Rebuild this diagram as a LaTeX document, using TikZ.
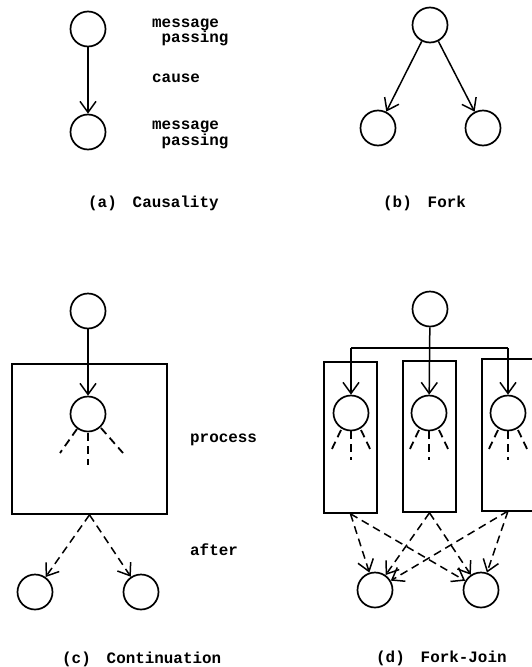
\documentclass[tikz,border=0pt]{standalone}
\usepackage{fontspec}
\setmainfont{Liberation Mono}
\usetikzlibrary{arrows.meta,calc}
\tikzset{
  circ/.style={circle,draw,line width=1.7pt,minimum size=35pt,inner sep=0pt},
  procbox/.style={rectangle,draw,line width=1.7pt,inner sep=0pt},
  arr/.style={line width=1.5pt,-{Straight Barb[length=11pt,width=16pt,line width=1.5pt]}},
  darr/.style={arr,dash pattern=on 8pt off 5pt},
  ray/.style={line width=1.8pt,dash pattern=on 8pt off 5pt},
  lbl/.style={anchor=base west,inner sep=0pt,font=\fontsize{15.9}{18}\selectfont\bfseries}
}
\begin{document}
\begin{tikzpicture}[x=1pt,y=-1pt]
\useasboundingbox (0,0) rectangle (532,667);
% (a) Causality
\node[circ] (a1) at (88,29) {};
\node[circ] (a2) at (88,132) {};
\draw[arr] (a1) -- (a2);
\node[lbl] (am1) at (152,27) {message};
\node[lbl] (ap1) at (161.5,42) {passing};
\node[lbl] (ac) at (152,82) {cause};
\node[lbl] (am2) at (152,129) {message};
\node[lbl] (ap2) at (161.5,145) {passing};
\node[lbl] (acap) at (88,207) {(a)\hspace{1em}Causality};
% (b) Fork
\node[circ] (b0) at (430,25) {};
\node[circ] (b1) at (378,128) {};
\node[circ] (b2) at (483,128) {};
\draw[arr] (b0) -- (b1);
\draw[arr] (b0) -- (b2);
\node[lbl] (bcap) at (383,207) {(b)\hspace{1em}Fork};
% (c) Continuation
\node[circ] (c0) at (88,311) {};
\node[procbox,minimum width=155pt,minimum height=150pt] (cp) at (89.5,439) {};
\node[circ] (ci) at (88,414) {};
\draw[arr] (c0) -- (ci);
\draw[ray] ($(ci)+(-11,15)$) -- ($(ci)+(-28,39)$);
\draw[ray] ($(ci)+(0,19)$) -- ($(ci)+(0,51)$);
\draw[ray] ($(ci)+(13,14)$) -- ($(ci)+(35,39)$);
\node[circ] (c1) at (35,592) {};
\node[circ] (c2) at (141,592) {};
\draw[darr] (cp.south) -- (c1);
\draw[darr] (cp.south) -- (c2);
\node[lbl] (cproc) at (190,442) {process};
\node[lbl] (cafter) at (190,555) {after};
\node[lbl] (ccap) at (62,663) {(c)\hspace{1em}Continuation};
% (d) Fork-Join
\node[circ] (d0) at (430,309) {};
\node[procbox,minimum width=53pt,minimum height=151pt] (p1) at (350.5,437.5) {};
\node[procbox,minimum width=53pt,minimum height=151pt] (p2) at (429.5,436.5) {};
\draw[line width=1.7pt] (533,359) -- (482,359) -- (482,511) -- (533,511);
\coordinate (p3s) at (508,511);
\node[circ] (d1) at (351,413) {};
\node[circ] (d2) at (429,413) {};
\node[circ] (d3) at (508,413) {};
\coordinate (bl) at (351,348);
\coordinate (br) at (508,348);
\draw[line width=1.5pt] (bl) -- (br);
\draw[arr] (bl) -- (d1);
\draw[arr] (d0) -- (d2);
\draw[arr] (br) -- (d3);
\foreach \c in {d1,d2,d3}{
  \draw[ray] ($(\c)+(-10,17)$) -- ($(\c)+(-21,40)$);
  \draw[ray] ($(\c)+(0,18)$) -- ($(\c)+(0,47)$);
  \draw[ray] ($(\c)+(10,17)$) -- ($(\c)+(21,40)$);
}
\node[circ] (e1) at (375,590) {};
\node[circ] (e2) at (481,590) {};
\draw[darr] (p1.south) -- (e1);
\draw[darr] (p1.south) -- (e2);
\draw[darr] (p2.south) -- (e1);
\draw[darr] (p2.south) -- (e2);
\draw[darr] (p3s) -- (e1);
\draw[darr] (p3s) -- (e2);
\node[lbl] (dcap) at (376,662) {(d)\hspace{1em}Fork-Join};
\end{tikzpicture}
\end{document}
